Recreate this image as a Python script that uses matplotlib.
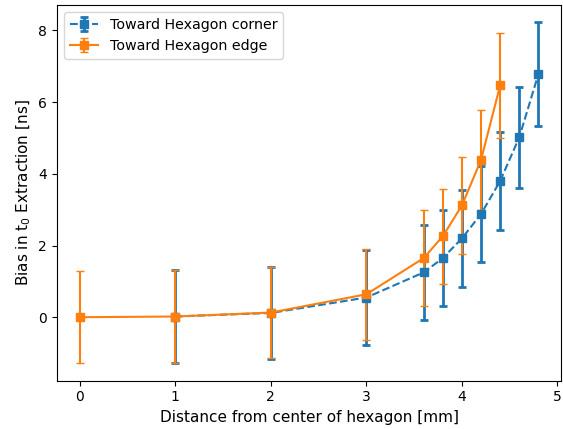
import matplotlib
matplotlib.use("Agg")
import matplotlib.pyplot as plt

# distance from hexagon center [mm]
corner_x = [1, 2, 3, 3.6, 3.8, 4.0, 4.2, 4.4, 4.6, 4.8]
corner_bias = [0.02, 0.12, 0.55, 1.25, 1.65, 2.2, 2.88, 3.8, 5.02, 6.78]
corner_err = [1.31, 1.29, 1.33, 1.33, 1.33, 1.35, 1.35, 1.37, 1.41, 1.45]

edge_x = [0, 1, 2, 3, 3.6, 3.8, 4.0, 4.2, 4.4]
edge_bias = [0.0, 0.02, 0.13, 0.64, 1.65, 2.26, 3.12, 4.39, 6.47]
edge_err = [1.28, 1.29, 1.27, 1.27, 1.33, 1.33, 1.35, 1.4, 1.47]

fig = plt.figure(figsize=(5.63, 4.29), dpi=100)
ax = fig.add_subplot(1, 1, 1)
fig.subplots_adjust(left=0.101, right=0.997, bottom=0.113, top=0.988)

ax.errorbar(corner_x, corner_bias, yerr=corner_err, fmt='s--', markersize=5.5,
            capsize=3, capthick=2, elinewidth=2, label='Toward Hexagon corner')
ax.errorbar(edge_x, edge_bias, yerr=edge_err, fmt='s-', markersize=5.5,
            capsize=3, label='Toward Hexagon edge')

ax.set_xlabel('Distance from center of hexagon [mm]', fontsize=11)
ax.set_ylabel('Bias in t$_0$ Extraction [ns]', fontsize=11)
ax.tick_params(labelsize=10)
ax.legend(loc='upper left', fontsize=10.3)

fig.savefig('out.png')
